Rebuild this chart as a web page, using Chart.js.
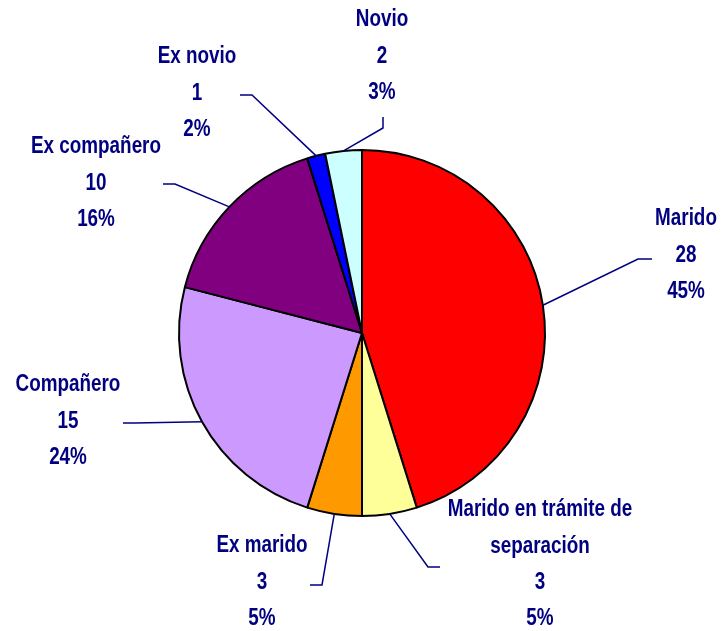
<!DOCTYPE html>
<html>
<head>
<meta charset="utf-8">
<script src="https://cdn.jsdelivr.net/npm/chart.js@4.4.0/dist/chart.umd.min.js"></script>
<style>
  body { margin: 0; background: #fff; }
  canvas { display: block; }
</style>
</head>
<body>
<canvas id="chart1" width="722" height="631"></canvas>
<script>
// data
const categories = ['Marido', ['Marido en trámite de', 'separación'], 'Ex marido', 'Compañero', 'Ex compañero', 'Ex novio', 'Novio'];
const counts = [28, 3, 3, 15, 10, 1, 2];
const sliceColors = ['#FF0000', '#FFFF99', '#FF9900', '#CC99FF', '#800080', '#0000FF', '#CCFFFF'];

// label placement, offsets from the pie centre (text = first line centre, elbow/end = leader line)
const labelPlaces = [
    { text: [324, -114], elbow: [276, -74], end: [290, -74] },
    { text: [178, 177], elbow: [66, 234], end: [78, 234] },
    { text: [-100, 213], elbow: [-40, 252], end: [-52, 252] },
    { text: [-294, 52], elbow: [-227, 90], end: [-239, 90] },
    { text: [-266, -186], elbow: [-187, -149], end: [-199, -149] },
    { text: [-165, -276], elbow: [-110, -238], end: [-122, -238] },
    { text: [20, -313], elbow: [21, -205], end: [21, -216] }
];

const navy = '#000080';
const lineGap = 36.3;
const narrow = 0.82; // no narrow font installed, squeeze the normal one

const leaderLabels = {
    id: 'leaderLabels',
    afterDatasetsDraw(chart) {
        const ctx = chart.ctx;
        const meta = chart.getDatasetMeta(0);
        const total = counts.reduce((a, b) => a + b, 0);
        ctx.save();
        meta.data.forEach((arc, i) => {
            const p = arc.getProps(['x', 'y', 'startAngle', 'endAngle', 'outerRadius'], true);
            const mid = (p.startAngle + p.endAngle) / 2;
            const place = labelPlaces[i];
            // leader line
            ctx.strokeStyle = navy;
            ctx.lineWidth = 1.5;
            ctx.beginPath();
            ctx.moveTo(p.x + Math.cos(mid) * p.outerRadius, p.y + Math.sin(mid) * p.outerRadius);
            ctx.lineTo(p.x + place.elbow[0], p.y + place.elbow[1]);
            ctx.lineTo(p.x + place.end[0], p.y + place.end[1]);
            ctx.stroke();

            // text
            const name = Array.isArray(categories[i]) ? categories[i] : [categories[i]];
            const lines = name.concat([String(counts[i]), Math.round(counts[i] / total * 100) + '%']);
            ctx.fillStyle = navy;
            ctx.font = 'bold 23px "Liberation Sans", Arial, sans-serif';
            ctx.textAlign = 'center';
            ctx.textBaseline = 'middle';
            lines.forEach((t, k) => {
                ctx.save();
                ctx.translate(p.x + place.text[0], p.y + place.text[1] + k * lineGap);
                ctx.scale(narrow, 1);
                ctx.fillText(t, 0, 0);
                ctx.restore();
            });
        });
        ctx.restore();
    }
};

const ctx1 = document.getElementById('chart1').getContext('2d');
new Chart(ctx1, {
    type: 'pie',
    data: {
        labels: categories,
        datasets: [
            {
                data: counts,
                backgroundColor: sliceColors,
                borderColor: '#000000',
                borderWidth: 2
            }
        ]
    },
    options: {
        responsive: false,
        animation: false,
        layout: {
            padding: { left: 178, right: 176, top: 149, bottom: 114 }
        },
        plugins: {
            legend: { display: false },
            tooltip: { enabled: false }
        }
    },
    plugins: [leaderLabels]
});
</script>
</body>
</html>
